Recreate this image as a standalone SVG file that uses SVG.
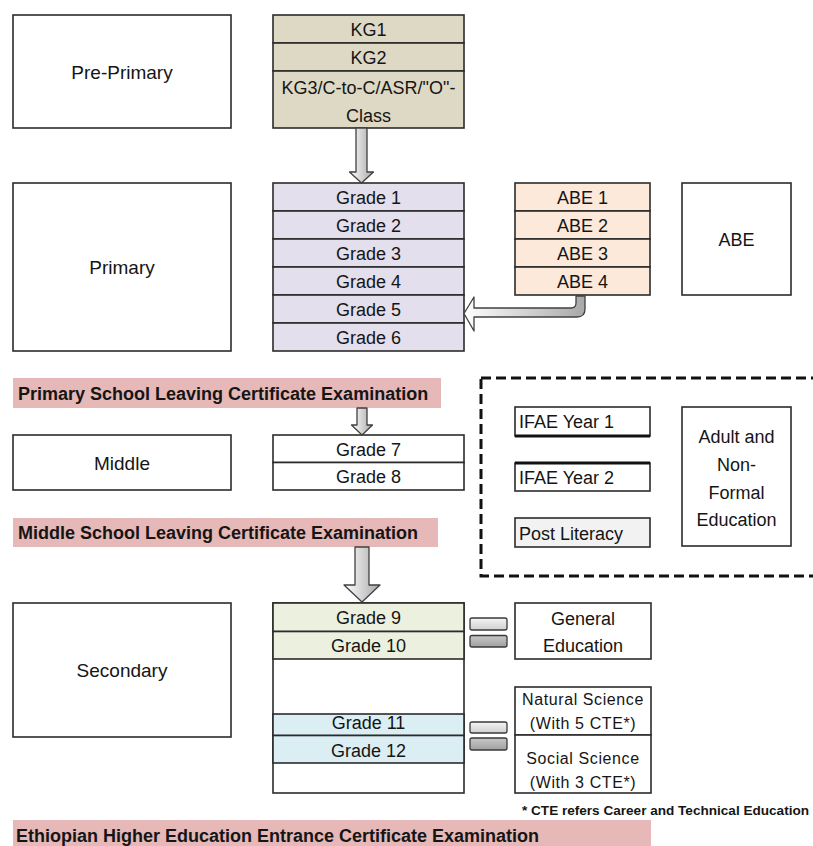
<svg xmlns="http://www.w3.org/2000/svg" width="813" height="846" viewBox="0 0 813 846">
<style>
text{font-family:"Liberation Sans",Arial,sans-serif;font-size:18px;fill:#151515}
.c{text-anchor:middle}
.b{font-weight:bold}
.lbl{font-size:19px}
.box{fill:#fff;stroke:#2b2b2b;stroke-width:1.6}
.cell{stroke:#2b2b2b;stroke-width:1.6}
.kg{fill:#ddd9c4}
.gr{fill:#e3dfed}
.abe{fill:#fce9da}
.g9{fill:#ebf1de}
.g11{fill:#dbeef3}
.pl{fill:#f2f2f2}
.w{fill:#fff}
.bar{fill:#e6b8b7}
.arr{fill:url(#ag);stroke:#404040;stroke-width:1.3;stroke-linejoin:round}
.eq1{fill:url(#eg1);stroke:#3a3a3a;stroke-width:1.3}
.eq2{fill:url(#eg2);stroke:#3a3a3a;stroke-width:1.3}
.sm{font-size:16px;letter-spacing:0.6px}
</style>
<defs>
<linearGradient id="ag" x1="0" y1="0" x2="1" y2="0">
<stop offset="0" stop-color="#ffffff"/>
<stop offset="1" stop-color="#a8a8a8"/>
</linearGradient>
<linearGradient id="eg1" x1="0" y1="0" x2="0" y2="1">
<stop offset="0" stop-color="#f4f4f4"/>
<stop offset="1" stop-color="#d0d0d0"/>
</linearGradient>
<linearGradient id="eg2" x1="0" y1="0" x2="0" y2="1">
<stop offset="0" stop-color="#c8c8c8"/>
<stop offset="1" stop-color="#a0a0a0"/>
</linearGradient>
</defs>

<g id="pre-primary">
<rect class="box" x="13" y="15" width="218" height="113"/>
<text class="c lbl" x="122" y="79">Pre-Primary</text>
</g>
<g id="kg-stack">
<rect class="cell kg" x="273" y="15" width="191" height="28"/>
<rect class="cell kg" x="273" y="43" width="191" height="28"/>
<rect class="cell kg" x="273" y="71" width="191" height="57"/>
<text class="c" x="368.5" y="35.5">KG1</text>
<text class="c" x="368.5" y="63.5">KG2</text>
<text class="c" x="368.5" y="93.5">KG3/C-to-C/ASR/"O"-</text>
<text class="c" x="368.5" y="121.5">Class</text>
</g>

<g id="primary">
<rect class="box" x="13" y="183" width="218" height="168"/>
<text class="c lbl" x="122" y="274">Primary</text>
</g>
<g id="grade1-6">
<rect class="cell gr" x="273" y="183" width="191" height="28"/>
<rect class="cell gr" x="273" y="211" width="191" height="28"/>
<rect class="cell gr" x="273" y="239" width="191" height="28"/>
<rect class="cell gr" x="273" y="267" width="191" height="28"/>
<rect class="cell gr" x="273" y="295" width="191" height="28"/>
<rect class="cell gr" x="273" y="323" width="191" height="28"/>
<text class="c" x="368.5" y="203.5">Grade 1</text>
<text class="c" x="368.5" y="231.5">Grade 2</text>
<text class="c" x="368.5" y="259.5">Grade 3</text>
<text class="c" x="368.5" y="287.5">Grade 4</text>
<text class="c" x="368.5" y="315.5">Grade 5</text>
<text class="c" x="368.5" y="343.5">Grade 6</text>
</g>
<g id="abe-stack">
<rect class="cell abe" x="515" y="183" width="135" height="28"/>
<rect class="cell abe" x="515" y="211" width="135" height="28"/>
<rect class="cell abe" x="515" y="239" width="135" height="28"/>
<rect class="cell abe" x="515" y="267" width="135" height="28"/>
<text class="c" x="582.5" y="203.5">ABE 1</text>
<text class="c" x="582.5" y="231.5">ABE 2</text>
<text class="c" x="582.5" y="259.5">ABE 3</text>
<text class="c" x="582.5" y="287.5">ABE 4</text>
</g>
<g id="abe">
<rect class="box" x="682" y="183" width="109" height="112"/>
<text class="c" x="736.5" y="246">ABE</text>
</g>

<g id="exam-primary">
<rect class="bar" x="13" y="378" width="428" height="30"/>
<text class="b" x="18" y="399.5">Primary School Leaving Certificate Examination</text>
</g>

<g id="middle">
<rect class="box" x="13" y="435" width="218" height="55"/>
<text class="c lbl" x="122" y="470">Middle</text>
</g>
<g id="grade7-8">
<rect class="cell w" x="273" y="435" width="191" height="27.5"/>
<rect class="cell w" x="273" y="462.5" width="191" height="27.5"/>
<text class="c" x="368.5" y="455.5">Grade 7</text>
<text class="c" x="368.5" y="483">Grade 8</text>
</g>

<g id="exam-middle">
<rect class="bar" x="13" y="518" width="425" height="29"/>
<text class="b" x="18" y="539">Middle School Leaving Certificate Examination</text>
</g>

<g id="adult-nonformal-group">
<rect x="481" y="378" width="340" height="198" fill="none" stroke="#111" stroke-width="3" stroke-dasharray="10 5"/>
</g>
<g id="ifae1">
<rect class="box" x="515" y="407" width="135" height="29"/>
<line x1="515" y1="436" x2="650" y2="436" stroke="#111" stroke-width="3"/>
<text x="519" y="427.5">IFAE Year 1</text>
</g>
<g id="ifae2">
<rect class="box" x="515" y="463" width="135" height="28"/>
<line x1="515" y1="463" x2="650" y2="463" stroke="#111" stroke-width="3"/>
<text x="519" y="483.5">IFAE Year 2</text>
</g>
<g id="post-literacy">
<rect class="cell pl" x="515" y="518" width="135" height="29"/>
<text x="519" y="539.5">Post Literacy</text>
</g>
<g id="adult">
<rect class="box" x="682" y="407" width="109" height="139"/>
<text class="c" x="736.5" y="442.5">Adult and</text>
<text class="c" x="736.5" y="470.5">Non-</text>
<text class="c" x="736.5" y="498.5">Formal</text>
<text class="c" x="736.5" y="525.5">Education</text>
</g>

<g id="secondary">
<rect class="box" x="13" y="603" width="218" height="134"/>
<text class="c lbl" x="122" y="676.5">Secondary</text>
</g>
<g id="grade9-12">
<rect class="cell w" x="273" y="603" width="191" height="190"/>
<rect class="cell g9" x="273" y="603" width="191" height="28.5"/>
<rect class="cell g9" x="273" y="631.5" width="191" height="27.5"/>
<rect class="cell g11" x="273" y="714" width="191" height="21.5"/>
<rect class="cell g11" x="273" y="735.5" width="191" height="27.5"/>
<text class="c" x="368.5" y="624">Grade 9</text>
<text class="c" x="368.5" y="652">Grade 10</text>
<text class="c" x="368.5" y="729">Grade 11</text>
<text class="c" x="368.5" y="756.5">Grade 12</text>
</g>
<g id="equals-1">
<rect class="eq1" x="470" y="618" width="37" height="12" rx="2"/>
<rect class="eq2" x="470" y="635.5" width="37" height="11.5" rx="2"/>
</g>
<g id="equals-2">
<rect class="eq1" x="470" y="722" width="37" height="11" rx="2"/>
<rect class="eq2" x="470" y="738" width="37" height="12" rx="2"/>
</g>
<g id="general-education">
<rect class="box" x="515" y="603" width="136" height="56"/>
<text class="c" x="583" y="624.5">General</text>
<text class="c" x="583" y="652">Education</text>
</g>
<g id="natural-science">
<rect class="box" x="515" y="687" width="136" height="48"/>
<text class="c sm" x="583" y="704.5">Natural Science</text>
<text class="c sm" x="583" y="728.5">(With 5 CTE*)</text>
</g>
<g id="social-science">
<rect class="box" x="515" y="735" width="136" height="58"/>
<text class="c sm" x="583" y="763.5">Social Science</text>
<text class="c sm" x="583" y="787.5">(With 3 CTE*)</text>
</g>
<text class="b" x="522" y="814.5" style="font-size:12.5px" textLength="287" lengthAdjust="spacingAndGlyphs">* CTE refers Career and Technical Education</text>

<g id="exam-higher">
<rect class="bar" x="13" y="820" width="638" height="30"/>
<text class="b" x="16" y="842">Ethiopian Higher Education Entrance Certificate Examination</text>
</g>

<g id="connectors">
<path class="arr" d="M356,128 L367,128 L367,172 L373.5,172 L361.5,183 L349.5,172 L356,172 Z"/>
<path class="arr" d="M464,313.5 L474,297 L474,308 L571,308 Q576,308 576,303 L576,296 L585,296 L585,309 Q585,317 577,317 L474,317 L474,331 Z"/>
<path class="arr" d="M357,408 L367,408 L367,425 L372.5,425 L362,435 L351.5,425 L357,425 Z"/>
<path class="arr" d="M355,547 L369,547 L369,585 L380,585 L362,602 L344,585 L355,585 Z"/>
</g>
</svg>
